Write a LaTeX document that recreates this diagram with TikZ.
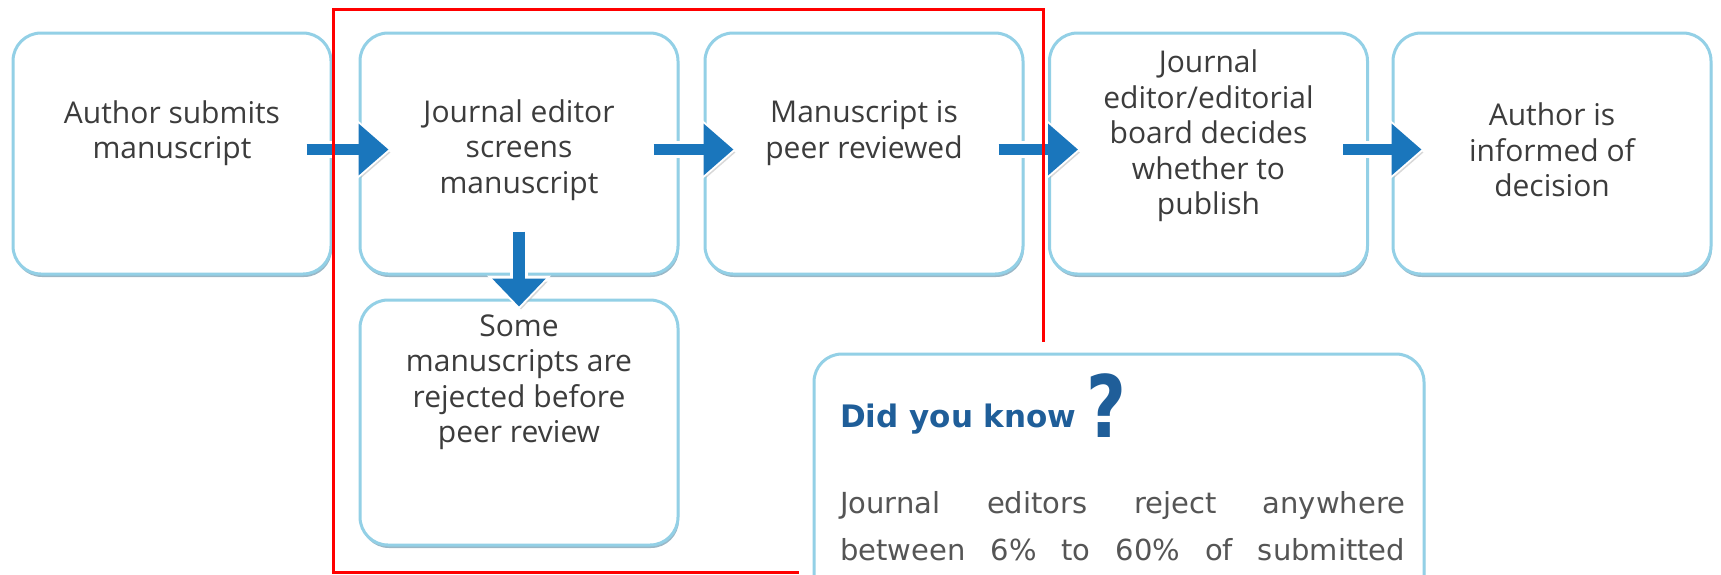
\documentclass[tikz,border=0pt]{standalone}
\usepackage{fontspec}
\setmainfont{Open Sans}
\newfontfamily\dv{DejaVu Sans}
\usetikzlibrary{arrows.meta,shadows}
\definecolor{boxc}{HTML}{93D0E6}
\definecolor{shadc}{HTML}{6F98AE}
\definecolor{arrc}{HTML}{1A76BC}
\definecolor{txtc}{HTML}{3C3C3C}
\definecolor{dykc}{HTML}{1F5E99}
\definecolor{bodyc}{HTML}{555555}
\tikzset{
  stepbox/.style={draw=boxc, line width=3pt, fill=white, rounded corners=28pt,
    minimum width=318pt, minimum height=241pt, inner sep=0pt,
    drop shadow={shadow xshift=1pt, shadow yshift=-3pt, fill=shadc, opacity=.7}},
  steptext/.style={align=center, text=txtc, font=\fontsize{30}{35.5}\selectfont, inner sep=0pt},
  harr/.style={draw=arrc, line width=11pt, -{Triangle[length=30pt,width=50pt]},
    preaction={draw=gray!60, opacity=.5, line width=11pt, -{Triangle[length=30pt,width=50pt]}, transform canvas={shift={(2pt,-3pt)}}},
    preaction={draw=white, line width=17pt, -{Triangle[length=36pt,width=60pt]}, shorten >=-3pt}},
  varr/.style={draw=arrc, line width=12pt, -{Triangle[length=28pt,width=52pt]},
    preaction={draw=gray!60, opacity=.5, line width=12pt, -{Triangle[length=28pt,width=52pt]}, transform canvas={shift={(2pt,-3pt)}}},
    preaction={draw=white, line width=18pt, -{Triangle[length=34pt,width=62pt]}, shorten >=-3pt}},
  bodytext/.style={text=bodyc, font=\dv\fontsize{29}{35}\selectfont, inner sep=0pt, anchor=base west}
}
\begin{document}
\begin{tikzpicture}[x=1pt,y=-1pt]
\useasboundingbox (0,0) rectangle (1721,574);
\clip (0,0) rectangle (1721,574);
% boxes
\node[stepbox] (b1) at (172,153.5) {};
\node[stepbox] (b2) at (519,153.5) {};
\node[stepbox] (b3) at (864,153.5) {};
\node[stepbox] (b4) at (1208.5,153.5) {};
\node[stepbox] (b5) at (1552,153.5) {};
\node[stepbox, minimum height=245pt] (b6) at (519,422.5) {};
% texts
\node[steptext] (t1) at (172,133) {Author submits\\manuscript};
\node[steptext] (t2) at (519,150) {Journal editor\\screens\\manuscript};
\node[steptext] (t3) at (864,133) {Manuscript is\\peer reviewed};
\node[steptext] (t4) at (1208.5,136) {Journal\\editor/editorial\\board decides\\whether to\\publish};
\node[steptext] (t5) at (1552,150) {Author is\\informed of\\decision};
\node[steptext] (t6) at (519,382) {Some\\manuscripts are\\rejected before\\peer review};
% arrows
\draw[harr] ([shift={(-26pt,4pt)}]b1.east) -- ([shift={(30pt,4pt)}]b2.west);
\draw[harr] ([shift={(-26pt,4pt)}]b2.east) -- ([shift={(30pt,4pt)}]b3.west);
\draw[harr] ([shift={(-26pt,4pt)}]b3.east) -- ([shift={(30pt,4pt)}]b4.west);
\draw[harr] ([shift={(-26pt,4pt)}]b4.east) -- ([shift={(30pt,4pt)}]b5.west);
\draw[varr] ([yshift=44pt]b2.south) -- ([yshift=-8pt]b6.north);
% red highlight
\draw[red, line width=3pt] (333,9) rectangle (1043,572);
% did you know box
\fill[white] (799,342) rectangle (1445,600);
\node[stepbox, minimum width=610pt, minimum height=300pt] (dyk) at (1119,504) {};
\node[anchor=base west, inner sep=0pt, text=dykc, font=\dv\bfseries\fontsize{31}{36}\selectfont] (dykt) at (840,427) {Did you know};
\node[anchor=base west, inner sep=0pt, xscale=0.8, text=dykc, font=\dv\bfseries\fontsize{86}{96}\selectfont] (qm) at (1086,437) {?};
\node[bodytext] (l1) at (840,513) {\makebox[565pt][s]{Journal editors reject anywhere}};
\node[bodytext] (l2) at (840,560) {\makebox[565pt][s]{between 6\% to 60\% of submitted}};
\end{tikzpicture}
\end{document}
